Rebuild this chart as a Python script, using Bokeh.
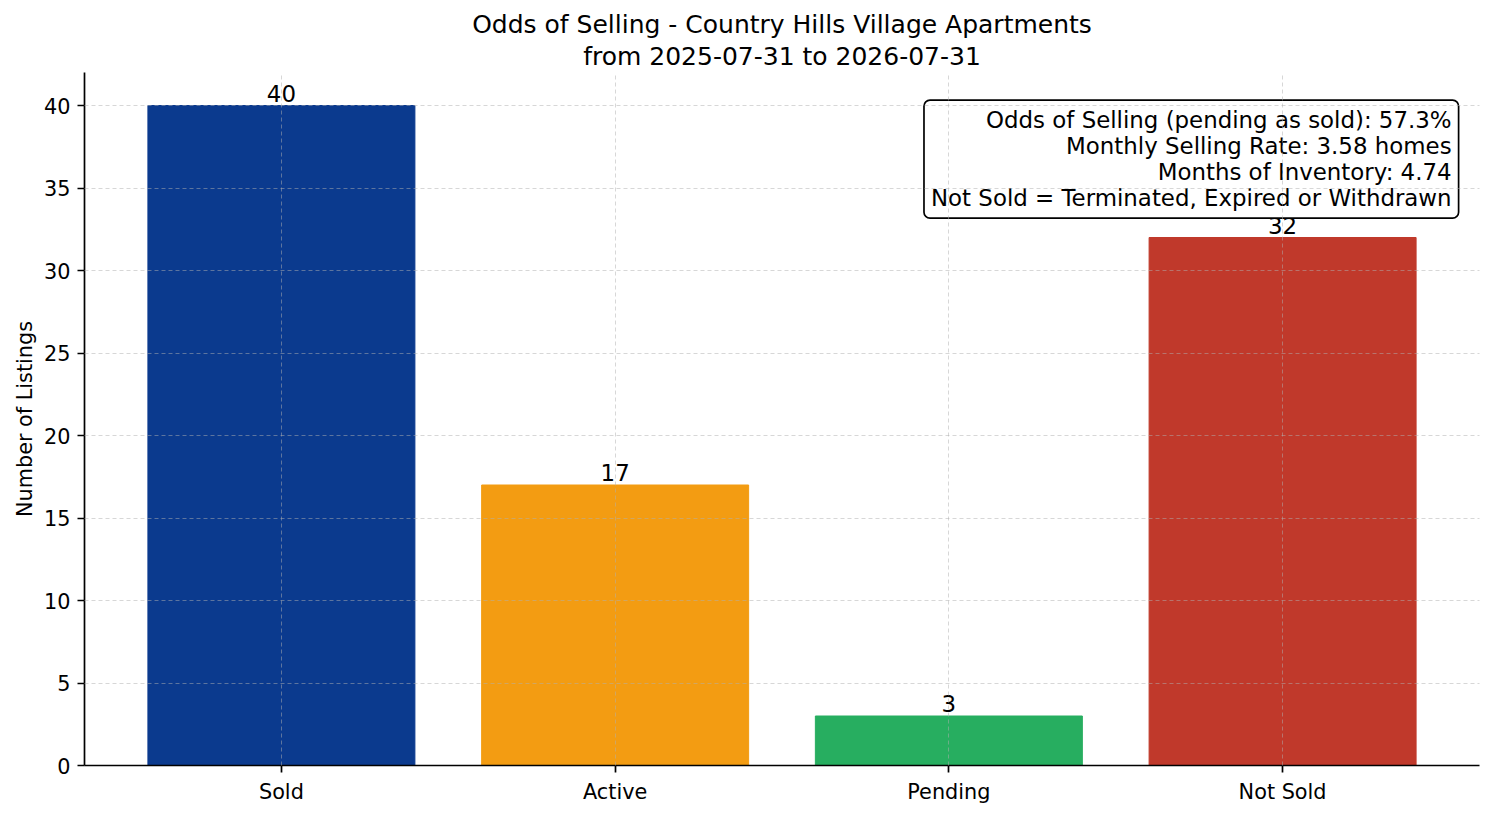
from bokeh.embed import file_html
from bokeh.resources import INLINE
from bokeh.models import ColumnDataSource, Range1d, FixedTicker, Label, Title
from bokeh.plotting import figure

categories = ["Sold", "Active", "Pending", "Not Sold"]
counts = [40, 17, 3, 32]
bar_colors = ["#0b3a8e", "#f39c12", "#27ae60", "#c0392b"]
y_ticks = [0, 5, 10, 15, 20, 25, 30, 35, 40]

title_line1 = "Odds of Selling - Country Hills Village Apartments"
title_line2 = "from 2025-07-31 to 2026-07-31"
odds_selling = 57.3
monthly_rate = 3.58
months_inventory = 4.74

FONT = "DejaVu Sans"

xpos = list(range(len(categories)))
src = ColumnDataSource(dict(x=xpos, top=counts, color=bar_colors,
                            label=[str(c) for c in counts]))

x_lo, x_hi = -0.59, len(categories) - 1 + 0.59
y_hi = 42

p = figure(
    frame_width=1395, frame_height=693,
    x_range=Range1d(x_lo, x_hi),
    y_range=Range1d(0, y_hi),
    toolbar_location=None,
    output_backend="svg",
    min_border_left=84, min_border_right=3,
    min_border_top=72, min_border_bottom=40,
)
p.title.visible = False

# second line first: it sits nearest the frame
for txt, so in ((title_line2, 3), (title_line1, 0)):
    p.add_layout(Title(text=txt, align="center", text_font=FONT,
                       text_font_size="25px", text_font_style="normal",
                       text_color="black", standoff=so), "above")

p.vbar(x="x", top="top", width=0.8, color="color", source=src)
p.text(x="x", y="top", text="label", source=src, text_align="center",
       text_baseline="bottom", y_offset=-4, text_font_size="22.9px",
       text_color="black", text_font={"value": FONT})

# grid on top of bars, like the reference
for g in (p.xgrid, p.ygrid):
    g.grid_line_color = "#b0b0b0"
    g.grid_line_alpha = 0.5
    g.grid_line_dash = "4 3"
    g.grid_line_width = 1
    g.level = "overlay"

p.xaxis.ticker = FixedTicker(ticks=xpos)
p.xaxis.major_label_overrides = {i: c for i, c in zip(xpos, categories)}
p.yaxis.ticker = FixedTicker(ticks=y_ticks)
p.yaxis.axis_label = "Number of Listings"

for ax in (p.xaxis, p.yaxis):
    ax.axis_line_width = 1.7
    ax.axis_line_color = "black"
    ax.major_tick_line_width = 1.7
    ax.major_tick_line_color = "black"
    ax.major_tick_out = 7
    ax.major_tick_in = 0
    ax.minor_tick_line_color = None
    ax.major_label_standoff = 7
    ax.major_label_text_font = FONT
    ax.major_label_text_font_size = "20.8px"
    ax.major_label_text_color = "black"
    ax.axis_label_text_font = FONT
    ax.axis_label_text_font_size = "20.8px"
    ax.axis_label_text_font_style = "normal"
    ax.axis_label_text_color = "black"
p.yaxis.axis_label_standoff = 4

p.outline_line_color = None

info = "\n".join([
    f"Odds of Selling (pending as sold): {odds_selling}%",
    f"Monthly Selling Rate: {monthly_rate} homes",
    f"Months of Inventory: {months_inventory}",
    "Not Sold = Terminated, Expired or Withdrawn",
])
p.add_layout(Label(
    x=x_hi - 0.02 * (x_hi - x_lo), y=y_hi * 0.95, x_offset=7, y_offset=7,
    text=info, text_align="right", text_baseline="top",
    text_font=FONT, text_font_size="22.9px", text_color="black",
    text_line_height=1.0,
    background_fill_color="white", border_line_color="black",
    border_line_width=1.7, border_radius=6, padding=7,
))

open("out.html", "w").write(file_html(p, INLINE))
